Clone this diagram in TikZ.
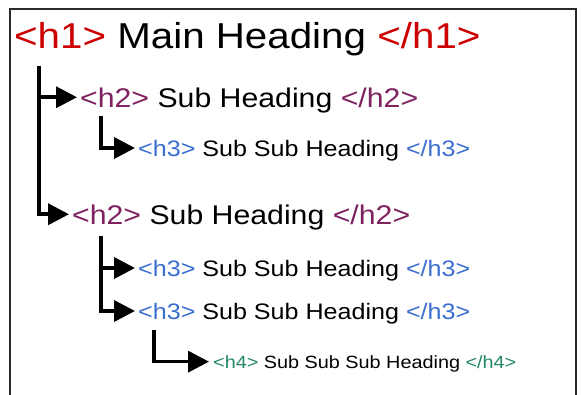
\documentclass[tikz,border=0pt]{standalone}
\usepackage{fontspec}
\setmainfont[FakeStretch=1.12]{Liberation Sans}
\usetikzlibrary{arrows.meta}
\definecolor{tagone}{HTML}{CC0000}
\definecolor{tagtwo}{HTML}{7E2360}
\definecolor{tagthree}{HTML}{3A6FD0}
\definecolor{tagfour}{HTML}{23876A}
\definecolor{framec}{HTML}{2A2A2A}
\begin{document}
\begin{tikzpicture}[x=1pt,y=-1pt,
  lbl/.style={anchor=base west, inner sep=0pt, text depth=0pt, text=black},
  hone/.style={lbl, font=\fontsize{36}{40}\selectfont, text height=26pt},
  htwo/.style={lbl, font=\fontsize{27}{30}\selectfont, text height=19.5pt},
  hthree/.style={lbl, font=\fontsize{22.4}{26}\selectfont, text height=16pt},
  hfour/.style={lbl, font=\fontsize{17.7}{20}\selectfont, text height=12.7pt},
  conn/.style={line width=3.6pt, -{Triangle[length=21pt,width=21pt]}}]
\useasboundingbox (0,0) rectangle (581,394);
\fill[white] (0,0) rectangle (581,394);
\draw[framec, line width=2.2pt] (10,9) rectangle (576,400);

\node[hone] (h1) at (14,48) {\textcolor{tagone}{<h1>} Main Heading \textcolor{tagone}{</h1>}};
\node[htwo] (h2a) at (80,107) {\textcolor{tagtwo}{<h2>} Sub Heading \textcolor{tagtwo}{</h2>}};
\node[hthree] (h3a) at (138,156) {\textcolor{tagthree}{<h3>} Sub Sub Heading \textcolor{tagthree}{</h3>}};
\node[htwo] (h2b) at (72,224) {\textcolor{tagtwo}{<h2>} Sub Heading \textcolor{tagtwo}{</h2>}};
\node[hthree] (h3b) at (138,276) {\textcolor{tagthree}{<h3>} Sub Sub Heading \textcolor{tagthree}{</h3>}};
\node[hthree] (h3c) at (138,319) {\textcolor{tagthree}{<h3>} Sub Sub Heading \textcolor{tagthree}{</h3>}};
\node[hfour] (h4) at (213,368) {\textcolor{tagfour}{<h4>} Sub Sub Sub Heading \textcolor{tagfour}{</h4>}};

\coordinate (t1) at (39,66);
\coordinate (t2) at (101,116);
\coordinate (t3) at (101,236);
\coordinate (t4) at (154,330);

\draw[conn] (t1) |- ([xshift=-3pt]h2b.west);
\draw[conn] (t1 |- h2a.west) -- ([xshift=-3pt]h2a.west);
\draw[conn] (t2) |- ([xshift=-3pt]h3a.west);
\draw[conn] (t3) |- ([xshift=-3pt]h3c.west);
\draw[conn] (t3 |- h3b.west) -- ([xshift=-3pt]h3b.west);
\draw[conn] (t4) |- ([xshift=-4pt]h4.west);
\end{tikzpicture}
\end{document}
